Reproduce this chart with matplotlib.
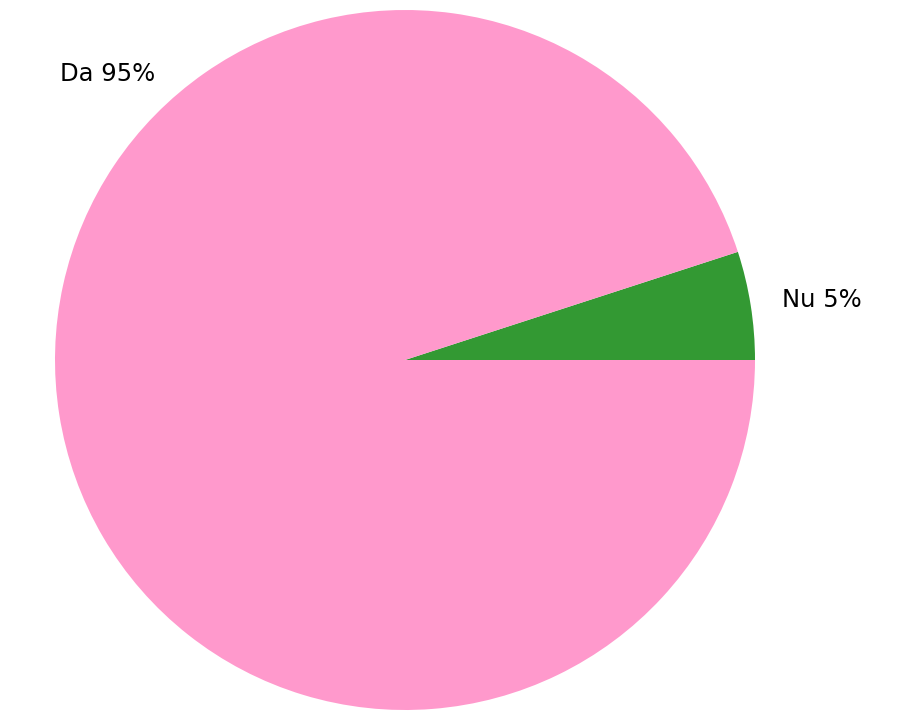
import numpy as np
import matplotlib
matplotlib.use("Agg")
from matplotlib import pyplot as plt

# slice data, counterclockwise from 3 o'clock
labels = ["Nu", "Da"]
values = [5, 95]
colors = ["#339933", "#ff99cc"]

fig = plt.figure(figsize=(9.12, 7.11), dpi=100)
# pie centre at (405, 360) px, radius 350 px
ax = fig.add_axes([55 / 912, 1 / 711, 700 / 912, 700 / 711])

wedges, texts = ax.pie(values, colors=colors, startangle=0, counterclock=True,
                       labels=[f"{l} {v}%" for l, v in zip(labels, values)],
                       labeldistance=1.09,
                       wedgeprops=dict(linewidth=0),
                       textprops=dict(fontsize=17.5, family="DejaVu Sans"))
ax.set_xlim(-1, 1)
ax.set_ylim(-1, 1)
ax.set_aspect("equal")

# Nu label sits just right of its slice
texts[0].set_ha("left")
texts[0].set_va("center")
# Da label is pushed to the upper left
a = np.deg2rad(131.2)
texts[1].set_position((1.085 * np.cos(a), 1.085 * np.sin(a)))
texts[1].set_ha("right")
texts[1].set_va("center")

fig.savefig("out.png", dpi=100)
